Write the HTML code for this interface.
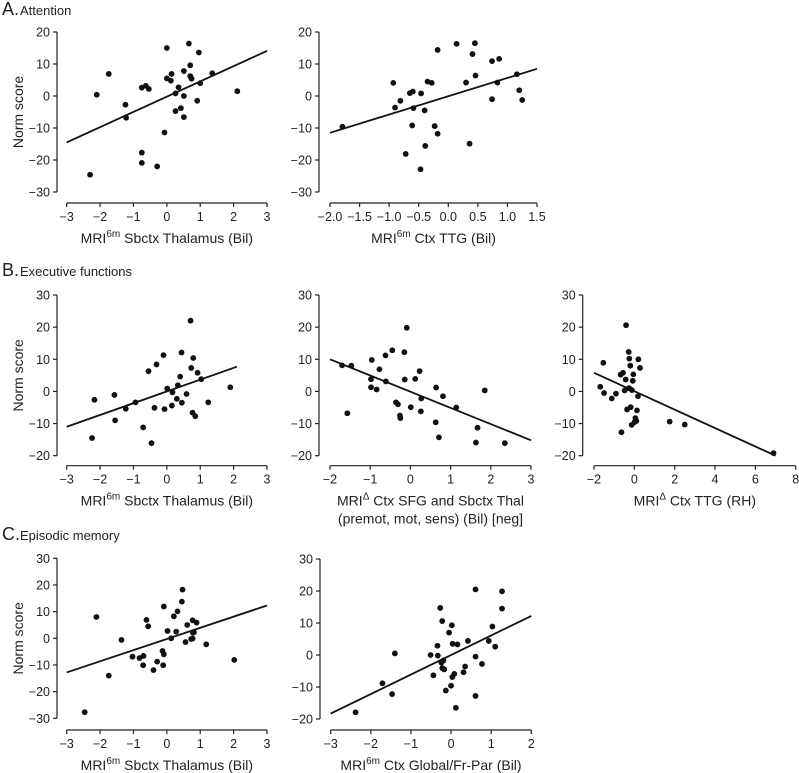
<!DOCTYPE html>
<html><head><meta charset="utf-8"><style>
body{margin:0;background:#fff;}
svg{display:block;font-family:"Liberation Sans","DejaVu Sans",sans-serif;}
</style></head><body>
<svg id="fig" width="799" height="773" viewBox="0 0 799 773" xmlns="http://www.w3.org/2000/svg">
<g><text x="2" y="15" font-size="18" fill="#222">A.</text><text x="20" y="15" font-size="13" fill="#222">Attention</text></g>
<g><text x="2" y="276" font-size="18" fill="#222">B.</text><text x="20" y="276" font-size="13" fill="#222">Executive functions</text></g>
<g><text x="2" y="540" font-size="18" fill="#222">C.</text><text x="20" y="540" font-size="13" fill="#222">Episodic memory</text></g>
</svg>
<script>
// Panel A1: MRI6m Sbctx Thalamus vs Attention
const a1X=[-2.3,-2.1,-1.74,-1.24,-1.22,-0.75,-0.63,-0.54,-0.75,-0.75,-0.29,-0.07,0,0.14,0,0.12,0.35,0.26,0.26,0.42,0.51,0.51,0.51,0.66,0.7,0.7,0.74,0.91,0.96,1.0,1.36,2.11];
const a1Y=[-24.6,0.4,6.9,-2.7,-6.8,2.6,3.2,2.2,-17.7,-20.9,-22,-11.4,15,6.9,5.5,4.8,2.7,0.8,-4.7,-3.8,0,-6.6,7.8,16.4,9.6,6.2,5.4,-1.5,13.6,4.0,7.1,1.5];
const a1Fit=[[-3,-14.5],[3,14.1]];
// Panel A2: MRI6m Ctx TTG
const a2X=[-1.79,-0.93,-0.9,-0.81,-0.65,-0.6,-0.59,-0.61,-0.72,-0.46,-0.47,-0.4,-0.39,-0.35,-0.28,-0.23,-0.18,-0.18,0.14,0.3,0.36,0.41,0.45,0.46,0.74,0.74,0.86,0.83,1.16,1.2,1.25];
const a2Y=[-9.6,4.1,-3.6,-1.5,0.9,1.4,-3.8,-9.2,-18.1,0.8,-22.9,-4.5,-15.6,4.5,4.1,-9.4,-11.8,14.4,16.3,4.2,-14.9,13.1,16.5,6.4,10.9,-1.0,11.6,4.2,6.8,1.8,-1.25];
const a2Fit=[[-2,-11.5],[1.5,8.5]];
// Panel B1
const b1X=[-2.24,-2.17,-1.57,-1.55,-1.23,-0.94,-0.71,-0.55,-0.46,-0.37,-0.31,-0.1,-0.07,0.01,0.15,0.17,0.3,0.33,0.4,0.44,0.45,0.59,0.71,0.73,0.77,0.79,0.85,0.92,1.03,1.24,1.9];
const b1Y=[-14.5,-2.6,-1.1,-9.0,-5.4,-3.4,-11.2,6.3,-16.1,-5.1,8.4,11.3,-5.5,0.9,-4.4,-0.3,-2.3,1.9,4.6,12.1,-3.5,-0.8,22,7.3,-6.6,10.4,-7.7,5.8,3.8,-3.4,1.3];
const b1Fit=[[-3,-11],[2.1,7.7]];
// Panel B2
const b2X=[-1.7,-1.47,-1.57,-0.96,-0.98,-0.98,-0.84,-0.77,-0.61,-0.62,-0.45,-0.36,-0.31,-0.26,-0.25,-0.15,-0.14,-0.09,0.01,0.12,0.23,0.26,0.27,0.64,0.63,0.71,0.81,1.14,1.63,1.67,1.85,2.35];
const b2Y=[8.1,8.0,-6.8,9.8,3.8,1.3,0.6,6.9,3.1,11.2,12.8,-3.4,-4.0,-7.5,-8.3,12.2,3.7,19.8,-4.9,3.9,6.3,-6.2,-2.2,1.2,-9.6,-14.3,-1.5,-5.0,-15.9,-11.3,0.3,-16.1];
const b2Fit=[[-2,10],[3,-15.2]];
// Panel B3
const b3X=[-1.69,-1.54,-1.5,-1.12,-0.91,-0.64,-0.68,-0.56,-0.43,-0.41,-0.48,-0.36,-0.28,-0.25,-0.26,-0.18,-0.2,-0.08,-0.05,-0.12,-0.13,0.02,0.05,0.1,0.13,0.18,0.2,0.28,1.75,2.5,6.9];
const b3Y=[1.45,8.9,-0.5,-2.2,-0.7,-12.7,5.2,5.8,3.7,20.6,0.3,-5.6,12.3,10.2,1.0,-4.9,8.0,3.3,5.3,0.4,-10.4,-9.5,-8.3,-9.2,-5.9,-1.5,10.0,7.3,-9.4,-10.3,-19.2];
const b3Fit=[[-2,5.8],[7,-20]];
// Panel C1
const c1X=[-2.46,-2.11,-1.74,-1.36,-1.03,-0.82,-0.7,-0.71,-0.61,-0.56,-0.4,-0.29,-0.13,-0.11,-0.09,-0.09,0.02,0.13,0.21,0.28,0.32,0.45,0.47,0.56,0.61,0.73,0.77,0.78,0.81,0.77,0.89,1.18,2.02];
const c1Y=[-27.7,8,-14,-0.6,-6.9,-7.4,-6.6,-10.1,6.9,4.5,-11.9,-8.75,-4.75,-10.1,-6,11.9,2.75,0,8.25,2.5,10.1,13.75,18.25,-1.4,5,-0.25,-0.1,2.1,2.25,6.75,5.9,-2.25,-8.1];
const c1Fit=[[-3,-12.8],[3,12.3]];
// Panel C2
const c2X=[-2.38,-1.71,-1.47,-1.4,-0.51,-0.44,-0.34,-0.33,-0.27,-0.24,-0.22,-0.22,-0.19,-0.17,-0.13,-0.05,0,0.02,0.03,0.04,0.08,0.12,0.16,0.31,0.35,0.42,0.61,0.61,0.61,0.77,0.94,1.03,1.1,1.27,1.27];
const c2Y=[-17.9,-8.85,-12.2,0.5,0,-6.35,2.9,-0.2,14.7,-2.4,10.6,-4.1,-1.7,-4.5,-11.1,7,-9.6,9.3,-6.9,3.5,-5.9,-16.5,3.3,-5.4,-3.6,4.4,20.5,-0.5,-12.8,-2.8,4.4,8.9,2.6,19.9,14.5];
const c2Fit=[[-3,-18.3],[2,12.2]];

const yTicksA=[20,10,0,-10,-20,-30];
const yTicksB=[30,20,10,0,-10,-20];
const yTicksC=[30,20,10,0,-10,-20,-30];
const yTicksC2=[30,20,10,0,-10,-20];
const xTicks6=[-3,-2,-1,0,1,2,3];
const xTicksA2=[-2.0,-1.5,-1.0,-0.5,0.0,0.5,1.0,1.5];
const xTicksB2=[-2,-1,0,1,2,3];
const xTicksB3=[-2,0,2,4,6,8];
const xTicksC2=[-3,-2,-1,0,1,2];

const NS="http://www.w3.org/2000/svg";
const svg=document.getElementById('fig');
function mk(tag,attrs,parent){const e=document.createElementNS(NS,tag);for(const k in attrs)e.setAttribute(k,attrs[k]);parent.appendChild(e);return e;}

const panels=[
 {id:'a1',ax:57,x0:66.7,x1:267,xmin:-3,xmax:3,yTop:32,yBot:192,ymax:20,ymin:-30,xAxisY:203,xs:a1X,ys:a1Y,fit:a1Fit,xt:xTicks6,yt:yTicksA,dec:0,title:['MRI','6m',' Sbctx Thalamus (Bil)'],ylab:true},
 {id:'a2',ax:319,x0:330,x1:537,xmin:-2,xmax:1.5,yTop:32,yBot:192,ymax:20,ymin:-30,xAxisY:203,xs:a2X,ys:a2Y,fit:a2Fit,xt:xTicksA2,yt:yTicksA,dec:1,title:['MRI','6m',' Ctx TTG (Bil)']},
 {id:'b1',ax:57,x0:66.7,x1:267,xmin:-3,xmax:3,yTop:295,yBot:455.7,ymax:30,ymin:-20,xAxisY:465.7,xs:b1X,ys:b1Y,fit:b1Fit,xt:xTicks6,yt:yTicksB,dec:0,title:['MRI','6m',' Sbctx Thalamus (Bil)'],ylab:true},
 {id:'b2',ax:319,x0:330,x1:531,xmin:-2,xmax:3,yTop:295,yBot:455.7,ymax:30,ymin:-20,xAxisY:465.7,xs:b2X,ys:b2Y,fit:b2Fit,xt:xTicksB2,yt:yTicksB,dec:0,title:['MRI','Δ',' Ctx SFG and Sbctx Thal'],title2:'(premot, mot, sens) (Bil) [neg]'},
 {id:'b3',ax:582.7,x0:594,x1:795.7,xmin:-2,xmax:8,yTop:295,yBot:455.7,ymax:30,ymin:-20,xAxisY:465.7,xs:b3X,ys:b3Y,fit:b3Fit,xt:xTicksB3,yt:yTicksB,dec:0,title:['MRI','Δ',' Ctx TTG (RH)']},
 {id:'c1',ax:57,x0:66.7,x1:267,xmin:-3,xmax:3,yTop:558.3,yBot:718.3,ymax:30,ymin:-30,xAxisY:730,xs:c1X,ys:c1Y,fit:c1Fit,xt:xTicks6,yt:yTicksC,dec:0,title:['MRI','6m',' Sbctx Thalamus (Bil)'],ylab:true},
 {id:'c2',ax:320,x0:330.7,x1:531.3,xmin:-3,xmax:2,yTop:559,yBot:719,ymax:30,ymin:-20,xAxisY:730,xs:c2X,ys:c2Y,fit:c2Fit,xt:xTicksC2,yt:yTicksC2,dec:0,title:['MRI','6m',' Ctx Global/Fr-Par (Bil)']}
];
function fmt(v,d){return (v<0?'\u2212':'')+Math.abs(v).toFixed(d);}
panels.forEach(p=>{
 const sx=v=>p.x0+(v-p.xmin)/(p.xmax-p.xmin)*(p.x1-p.x0);
 const sy=v=>p.yTop+(p.ymax-v)/(p.ymax-p.ymin)*(p.yBot-p.yTop);
 const g=mk('g',{},svg);
 
 
 const ya=mk('g',{},g);
 
 
 mk('line',{x1:p.ax,y1:sy(p.ymax),x2:p.ax,y2:sy(p.ymin),stroke:'#222','stroke-width':1.2},ya);
 p.yt.forEach(t=>{const y=sy(t);
  mk('line',{x1:p.ax-4,y1:y,x2:p.ax,y2:y,stroke:'#222','stroke-width':1.2},ya);
  const tx=mk('text',{x:p.ax-7,y:y+4.5,'font-size':12.5,fill:'#222','text-anchor':'end'},ya);tx.textContent=fmt(t,0);
  
  
 });
 const xa=mk('g',{},g);
 
 
 mk('line',{x1:sx(p.xmin),y1:p.xAxisY,x2:sx(p.xmax),y2:p.xAxisY,stroke:'#222','stroke-width':1.2},xa);
 p.xt.forEach(t=>{const x=sx(t);
  mk('line',{x1:x,y1:p.xAxisY,x2:x,y2:p.xAxisY+4,stroke:'#222','stroke-width':1.2},xa);
  const tx=mk('text',{x:x,y:p.xAxisY+18,'font-size':12.5,fill:'#222','text-anchor':'middle'},xa);tx.textContent=fmt(t,p.dec);
  
  
 });
 const tt=mk('text',{x:(p.x0+p.x1)/2,y:p.xAxisY+40,'font-size':14,fill:'#222','text-anchor':'middle'},g);
 
 
 mk('tspan',{},tt).textContent=p.title[0];
 mk('tspan',{'font-size':10,dy:-6},tt).textContent=p.title[1];
 mk('tspan',{dy:6},tt).textContent=p.title[2];
 if(p.title2){const t2=mk('text',{x:(p.x0+p.x1)/2,y:p.xAxisY+58,'font-size':14,fill:'#222','text-anchor':'middle'},g);t2.textContent=p.title2;
  
  }
 if(p.ylab){const cy=(p.yTop+p.yBot)/2;const yl=mk('text',{x:0,y:0,'font-size':14,fill:'#222','text-anchor':'middle',transform:`translate(23,${cy}) rotate(-90)`},g);yl.textContent='Norm score';
  
  }
 const fl=mk('line',{x1:sx(p.fit[0][0]),y1:sy(p.fit[0][1]),x2:sx(p.fit[1][0]),y2:sy(p.fit[1][1]),stroke:'#111','stroke-width':1.8},g);
 
 
 p.xs.forEach((v,i)=>{const c=mk('circle',{cx:sx(v),cy:sy(p.ys[i]),r:2.9,fill:'#111'},g);
  
  });
});
</script>
</body></html>
